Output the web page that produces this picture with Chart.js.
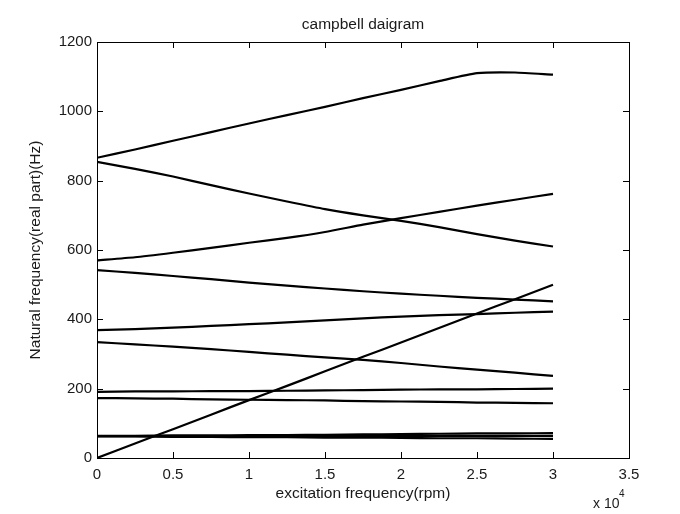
<!DOCTYPE html>
<html>
<head>
<meta charset="utf-8">
<script src="https://cdn.jsdelivr.net/npm/chart.js@4"></script>
<style>
  body { margin: 0; background: #fff; }
</style>
</head>
<body>
<canvas id="campbell" width="680" height="514"></canvas>
<script>
// excitation speed (rpm) at which every mode was sampled
const speeds = [0, 2500, 5000, 7500, 10000, 12500, 15000, 17500, 20000, 22500, 25000, 27500, 30000];

// natural frequencies (Hz) of each mode
const mode1 = [866, 890, 915, 940, 965, 989, 1013, 1038, 1062, 1087, 1110, 1112, 1106];
const mode2 = [854, 834, 812, 787, 763, 740, 718, 700, 684, 666, 646, 627, 610];
const mode3 = [570, 579, 592, 606, 621, 635, 652, 673, 692, 710, 728, 745, 762];
const mode4 = [542, 534, 525, 516, 506, 497, 489, 481, 474, 468, 462, 457, 452];
const mode5 = [369, 372, 376, 381, 386, 391, 397, 403, 408, 412, 415, 419, 422];
const mode6 = [334, 328, 321, 314, 306, 298, 290, 283, 274, 264, 255, 246, 237];
const mode7 = [191, 192, 192, 193, 193, 194, 195, 196, 197, 198, 198, 199, 200];
const mode8 = [173, 172, 171, 169, 168, 167, 166, 164, 163, 162, 160, 159, 158];
const mode9 = [64, 64, 65, 65, 66, 66, 67, 68, 69, 70, 71, 71, 72];
const mode10 = [63, 63, 63, 63, 63, 63, 63, 63, 64, 64, 64, 64, 64];
const mode11 = [62, 62, 61, 61, 60, 60, 59, 59, 58, 57, 57, 56, 55];
// 1x excitation line (rpm / 60)
const oneX = [0, 42, 83, 125, 167, 208, 250, 292, 333, 375, 417, 458, 500];

const modes = [mode1, mode2, mode3, mode4, mode5, mode6, oneX, mode7, mode8, mode9, mode10, mode11];

const FONT = '"Liberation Sans", Arial, sans-serif';
const INK = '#1a1a1a';

// matlab style box with inward ticks, title over the axes, and the x10^4 exponent
const boxPlugin = {
  id: 'box',
  afterDraw(chart) {
    const { ctx, chartArea: a, scales } = chart;
    ctx.save();
    ctx.strokeStyle = '#000';
    ctx.lineWidth = 1;
    ctx.strokeRect(a.left + 0.5, a.top + 0.5, a.right - a.left, a.bottom - a.top);
    ctx.beginPath();
    scales.x.ticks.forEach(t => {
      const px = Math.round(scales.x.getPixelForValue(t.value)) + 0.5;
      ctx.moveTo(px, a.bottom); ctx.lineTo(px, a.bottom - 6);
      ctx.moveTo(px, a.top); ctx.lineTo(px, a.top + 6);
    });
    scales.y.ticks.forEach(t => {
      const py = Math.round(scales.y.getPixelForValue(t.value)) + 0.5;
      ctx.moveTo(a.left, py); ctx.lineTo(a.left + 6, py);
      ctx.moveTo(a.right, py); ctx.lineTo(a.right - 6, py);
    });
    ctx.stroke();

    ctx.fillStyle = INK;
    ctx.textAlign = 'center';
    ctx.textBaseline = 'middle';
    ctx.font = '15.5px ' + FONT;
    ctx.fillText('campbell daigram', (a.left + a.right) / 2, 25);

    ctx.textAlign = 'left';
    ctx.textBaseline = 'alphabetic';
    ctx.font = '14px ' + FONT;
    ctx.fillText('x 10', 593, 508);
    ctx.font = '10px ' + FONT;
    ctx.fillText('4', 619, 497);
    ctx.restore();
  }
};

new Chart(document.getElementById('campbell'), {
  type: 'line',
  data: {
    datasets: modes.map((m, i) => ({
      label: 'mode ' + (i + 1),
      data: speeds.map((s, j) => ({ x: s, y: m[j] })),
      borderColor: '#000',
      borderWidth: 2.2,
      pointRadius: 0,
      tension: 0.2,
      fill: false
    }))
  },
  plugins: [boxPlugin],
  options: {
    responsive: false,
    animation: false,
    layout: { padding: { left: 0, right: 51, top: 42, bottom: 0 } },
    plugins: {
      legend: { display: false },
      tooltip: { enabled: false },
      title: { display: false }
    },
    scales: {
      x: {
        type: 'linear',
        min: 0,
        max: 35000,
        afterFit: s => { s.height = 56; },
        grid: { display: false, drawTicks: false },
        border: { display: false },
        ticks: {
          stepSize: 5000,
          color: INK,
          padding: 8,
          font: { family: FONT, size: 15 },
          maxRotation: 0,
          callback: v => String(v / 10000)
        },
        title: {
          display: true,
          text: 'excitation frequency(rpm)',
          color: INK,
          font: { family: FONT, size: 15.5 },
          padding: { top: 0, bottom: 11 }
        }
      },
      y: {
        min: 0,
        max: 1200,
        afterFit: s => { s.width = 97; },
        grid: { display: false, drawTicks: false },
        border: { display: false },
        ticks: {
          stepSize: 200,
          color: INK,
          padding: 5,
          font: { family: FONT, size: 15 },
          callback: v => String(v)
        },
        title: {
          display: true,
          text: 'Natural frequency(real part)(Hz)',
          color: INK,
          font: { family: FONT, size: 15.5 },
          padding: { top: 26, bottom: 0 }
        }
      }
    }
  }
});
</script>
</body>
</html>
